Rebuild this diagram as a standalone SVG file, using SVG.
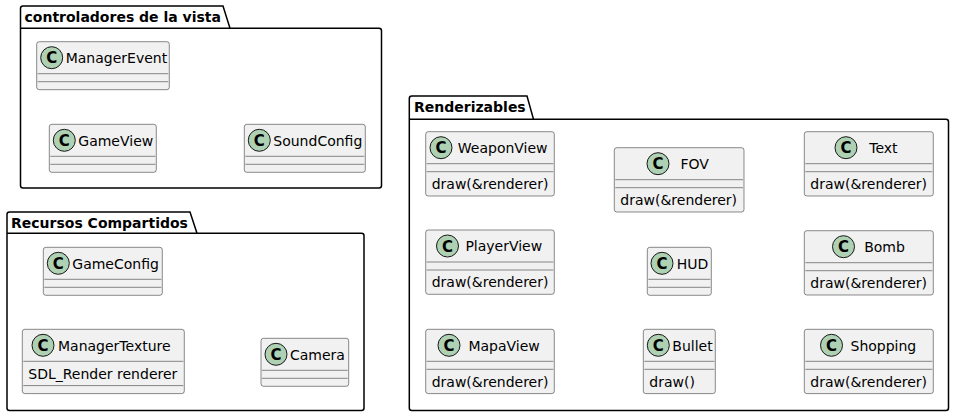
<svg xmlns="http://www.w3.org/2000/svg" width="955" height="416" viewBox="0 0 955 416">
<style>
.pkg{fill:none;stroke:#000000;stroke-width:1.5}
.pt{font-family:"DejaVu Sans","Liberation Sans",sans-serif;font-size:14px;font-weight:bold;fill:#000000}
.box{fill:#F1F1F1;stroke:#181818;stroke-width:0.5}
.sep{stroke:#181818;stroke-width:0.5}
.ci{fill:#ADD1B2;stroke:#181818;stroke-width:1}
.cc{font-family:"DejaVu Sans","Liberation Sans",sans-serif;font-size:15px;font-weight:bold;fill:#000000;text-anchor:middle}
.nm{font-family:"DejaVu Sans","Liberation Sans",sans-serif;font-size:14px;fill:#000000}
.mb{font-family:"DejaVu Sans","Liberation Sans",sans-serif;font-size:14px;fill:#000000}
</style>
<rect width="955" height="416" fill="#FFFFFF"/>
<g id="pkg-controladores">
<path class="pkg" d="M20.5,8.5 Q20.5,6 23,6 L223,6 L230,28.3 L379,28.3 Q381.5,28.3 381.5,30.8 L381.5,185.5 Q381.5,188 379,188 L23,188 Q20.5,188 20.5,185.5 Z"/>
<line class="pkg" x1="20.5" y1="28.3" x2="230" y2="28.3"/>
<text class="pt" x="24.5" y="21.5">controladores de la vista</text>
</g>
<g id="pkg-recursos">
<path class="pkg" d="M7,214.5 Q7,212 9.5,212 L190,212 L197,233.3 L361.5,233.3 Q364,233.3 364,235.8 L364,408 Q364,410.5 361.5,410.5 L9.5,410.5 Q7,410.5 7,408 Z"/>
<line class="pkg" x1="7" y1="233.3" x2="197" y2="233.3"/>
<text class="pt" x="11" y="227.5">Recursos Compartidos</text>
</g>
<g id="pkg-renderizables">
<path class="pkg" d="M409.3,98.5 Q409.3,96 411.8,96 L527,96 L533.5,119.3 L946,119.3 Q948.5,119.3 948.5,121.8 L948.5,408 Q948.5,410.5 946,410.5 L411.8,410.5 Q409.3,410.5 409.3,408 Z"/>
<line class="pkg" x1="409.3" y1="119.3" x2="533.5" y2="119.3"/>
<text class="pt" x="414" y="111.5">Renderizables</text>
</g>
<g id="ManagerEvent">
<rect class="box" x="36.7" y="41.7" width="132.6" height="48" rx="2.5"/>
<circle class="ci" cx="51.7" cy="57.7" r="11"/><text class="cc" x="51.7" y="63.2">C</text>
<text class="nm" x="65.7" y="62.9">ManagerEvent</text>
<line class="sep" x1="37.7" y1="73.7" x2="168.3" y2="73.7"/>
<line class="sep" x1="37.7" y1="81.7" x2="168.3" y2="81.7"/>
</g>
<g id="GameView">
<rect class="box" x="49.3" y="124.3" width="107" height="48" rx="2.5"/>
<circle class="ci" cx="64.3" cy="140.3" r="11"/><text class="cc" x="64.3" y="145.8">C</text>
<text class="nm" x="78.3" y="145.5">GameView</text>
<line class="sep" x1="50.3" y1="156.3" x2="155.3" y2="156.3"/>
<line class="sep" x1="50.3" y1="164.3" x2="155.3" y2="164.3"/>
</g>
<g id="SoundConfig">
<rect class="box" x="244.3" y="124.3" width="121" height="48" rx="2.5"/>
<circle class="ci" cx="259.3" cy="140.3" r="11"/><text class="cc" x="259.3" y="145.8">C</text>
<text class="nm" x="273.3" y="145.5">SoundConfig</text>
<line class="sep" x1="245.3" y1="156.3" x2="364.3" y2="156.3"/>
<line class="sep" x1="245.3" y1="164.3" x2="364.3" y2="164.3"/>
</g>
<g id="GameConfig">
<rect class="box" x="43.3" y="247.3" width="119" height="48" rx="2.5"/>
<circle class="ci" cx="58.3" cy="263.3" r="11"/><text class="cc" x="58.3" y="268.8">C</text>
<text class="nm" x="72.3" y="268.5">GameConfig</text>
<line class="sep" x1="44.3" y1="279.3" x2="161.3" y2="279.3"/>
<line class="sep" x1="44.3" y1="287.3" x2="161.3" y2="287.3"/>
</g>
<g id="ManagerTexture">
<rect class="box" x="22.3" y="329.3" width="162" height="64.3" rx="2.5"/>
<circle class="ci" cx="43" cy="345.3" r="11"/><text class="cc" x="43" y="350.8">C</text>
<text class="nm" x="58" y="350.5">ManagerTexture</text>
<line class="sep" x1="23.3" y1="361.3" x2="183.3" y2="361.3"/>
<text class="mb" x="28.3" y="378.5">SDL_Render renderer</text>
<line class="sep" x1="23.3" y1="385.6" x2="183.3" y2="385.6"/>
</g>
<g id="Camera">
<rect class="box" x="261" y="338.3" width="87.7" height="48" rx="2.5"/>
<circle class="ci" cx="276" cy="354.3" r="11"/><text class="cc" x="276" y="359.8">C</text>
<text class="nm" x="290" y="359.5">Camera</text>
<line class="sep" x1="262" y1="370.3" x2="347.7" y2="370.3"/>
<line class="sep" x1="262" y1="378.3" x2="347.7" y2="378.3"/>
</g>
<g id="WeaponView">
<rect class="box" x="425.7" y="131.7" width="128.6" height="64.3" rx="2.5"/>
<circle class="ci" cx="441" cy="147.7" r="11"/><text class="cc" x="441" y="153.2">C</text>
<text class="nm" x="457.8" y="152.9">WeaponView</text>
<line class="sep" x1="426.7" y1="163.7" x2="553.3" y2="163.7"/>
<line class="sep" x1="426.7" y1="171.7" x2="553.3" y2="171.7"/>
<text class="mb" x="431.7" y="188.9">draw(&amp;renderer)</text>
</g>
<g id="PlayerView">
<rect class="box" x="425.7" y="230" width="128.6" height="64.3" rx="2.5"/>
<circle class="ci" cx="447.5" cy="246" r="11"/><text class="cc" x="447.5" y="251.5">C</text>
<text class="nm" x="465.4" y="251.2">PlayerView</text>
<line class="sep" x1="426.7" y1="262" x2="553.3" y2="262"/>
<line class="sep" x1="426.7" y1="270" x2="553.3" y2="270"/>
<text class="mb" x="431.7" y="287.2">draw(&amp;renderer)</text>
</g>
<g id="MapaView">
<rect class="box" x="425.7" y="329.3" width="128.6" height="64.3" rx="2.5"/>
<circle class="ci" cx="449" cy="345.3" r="11"/><text class="cc" x="449" y="350.8">C</text>
<text class="nm" x="468.4" y="350.5">MapaView</text>
<line class="sep" x1="426.7" y1="361.3" x2="553.3" y2="361.3"/>
<line class="sep" x1="426.7" y1="369.3" x2="553.3" y2="369.3"/>
<text class="mb" x="431.7" y="386.5">draw(&amp;renderer)</text>
</g>
<g id="FOV">
<rect class="box" x="614.3" y="147.7" width="129.7" height="64.3" rx="2.5"/>
<circle class="ci" cx="658" cy="163.7" r="11"/><text class="cc" x="658" y="169.2">C</text>
<text class="nm" x="680.5" y="168.9">FOV</text>
<line class="sep" x1="615.3" y1="179.7" x2="743" y2="179.7"/>
<line class="sep" x1="615.3" y1="187.7" x2="743" y2="187.7"/>
<text class="mb" x="620.3" y="204.9">draw(&amp;renderer)</text>
</g>
<g id="HUD">
<rect class="box" x="647.3" y="247.3" width="64" height="48" rx="2.5"/>
<circle class="ci" cx="662" cy="263.3" r="11"/><text class="cc" x="662" y="268.8">C</text>
<text class="nm" x="676.8" y="268.5">HUD</text>
<line class="sep" x1="648.3" y1="279.3" x2="710.3" y2="279.3"/>
<line class="sep" x1="648.3" y1="287.3" x2="710.3" y2="287.3"/>
</g>
<g id="Bullet">
<rect class="box" x="643.3" y="329.3" width="72" height="64.3" rx="2.5"/>
<circle class="ci" cx="658.3" cy="345.3" r="11"/><text class="cc" x="658.3" y="350.8">C</text>
<text class="nm" x="672.3" y="350.5">Bullet</text>
<line class="sep" x1="644.3" y1="361.3" x2="714.3" y2="361.3"/>
<line class="sep" x1="644.3" y1="369.3" x2="714.3" y2="369.3"/>
<text class="mb" x="649.3" y="386.5">draw()</text>
</g>
<g id="Text">
<rect class="box" x="804.3" y="131.7" width="129" height="64.3" rx="2.5"/>
<circle class="ci" cx="846" cy="147.7" r="11"/><text class="cc" x="846" y="153.2">C</text>
<text class="nm" x="869.3" y="152.9">Text</text>
<line class="sep" x1="805.3" y1="163.7" x2="932.3" y2="163.7"/>
<line class="sep" x1="805.3" y1="171.7" x2="932.3" y2="171.7"/>
<text class="mb" x="810.3" y="188.9">draw(&amp;renderer)</text>
</g>
<g id="Bomb">
<rect class="box" x="804.3" y="230.7" width="129" height="64.3" rx="2.5"/>
<circle class="ci" cx="843.5" cy="246.7" r="11"/><text class="cc" x="843.5" y="252.2">C</text>
<text class="nm" x="864.2" y="251.9">Bomb</text>
<line class="sep" x1="805.3" y1="262.7" x2="932.3" y2="262.7"/>
<line class="sep" x1="805.3" y1="270.7" x2="932.3" y2="270.7"/>
<text class="mb" x="810.3" y="287.9">draw(&amp;renderer)</text>
</g>
<g id="Shopping">
<rect class="box" x="804.3" y="329.3" width="129" height="64.3" rx="2.5"/>
<circle class="ci" cx="831.5" cy="345.3" r="11"/><text class="cc" x="831.5" y="350.8">C</text>
<text class="nm" x="850.5" y="350.5">Shopping</text>
<line class="sep" x1="805.3" y1="361.3" x2="932.3" y2="361.3"/>
<line class="sep" x1="805.3" y1="369.3" x2="932.3" y2="369.3"/>
<text class="mb" x="810.3" y="386.5">draw(&amp;renderer)</text>
</g>
<g id="connectors"></g>
</svg>
